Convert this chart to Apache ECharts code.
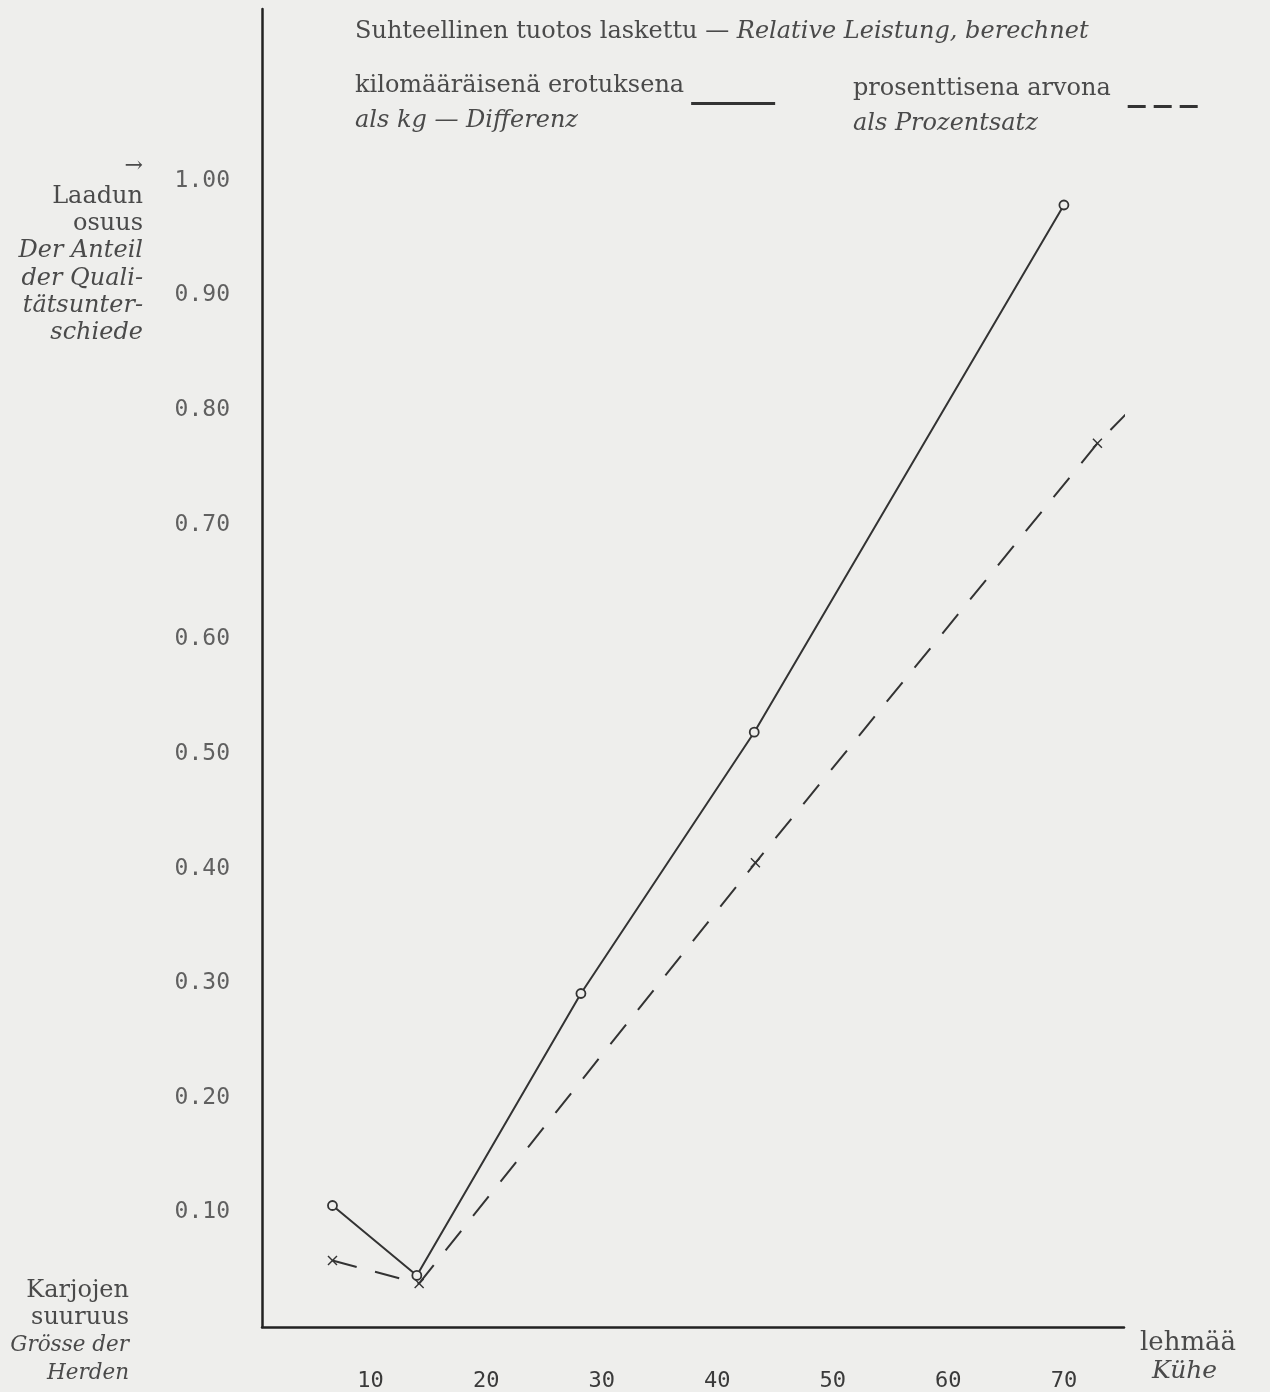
<!DOCTYPE html>
<html>
<head>
<meta charset="utf-8">
<script src="https://cdn.jsdelivr.net/npm/echarts@6/dist/echarts.min.js"></script>
<style>
  html, body { margin: 0; padding: 0; background: #eeeeec; }
  #chart { width: 1270px; height: 1392px; }
</style>
</head>
<body>
<div id="chart"></div>
<script>
// ---- data ----
const xTickLabels = [10, 20, 30, 40, 50, 60, 70];
const yTickLabels = [0.1, 0.2, 0.3, 0.4, 0.5, 0.6, 0.7, 0.8, 0.9, 1.0];

const seriesNames = ['kilomääräisenä erotuksena', 'prosenttisena arvona'];
const seriesSubNames = ['als kg — Differenz', 'als Prozentsatz'];

// herd size (cows) and relative share of quality differences
const kgDiffX = [6.7, 14.0, 28.2, 43.2, 70.0];
const kgDiffY = [0.106, 0.045, 0.291, 0.519, 0.979];

const pctX = [6.7, 14.2, 43.3, 72.9, 76.2];
const pctY = [0.058, 0.038, 0.405, 0.771, 0.805];

// ---- styles ----
const BG = '#eeeeec';
const INK = '#333333';
const TEXT = '#4a4a4a';
const SERIF = '"DejaVu Serif", "Liberation Serif", serif';
const MONO = '"DejaVu Sans Mono", "Liberation Mono", monospace';
const CROSS = 'path://M0,1L1,0L5,4L9,0L10,1L6,5L10,9L9,10L5,6L1,10L0,9L4,5Z';

const kgData = kgDiffX.map((x, i) => [x, kgDiffY[i]]);
const pctData = pctX.map((x, i) => i === pctX.length - 1
  ? { value: [x, pctY[i]], symbol: 'none' }
  : [x, pctY[i]]);

function legendRich(padRight) {
  return {
    a: { fontFamily: SERIF, fontSize: 24, color: TEXT, lineHeight: 35, align: 'left', padding: [0, padRight, 0, 0] },
    b: { fontFamily: SERIF, fontStyle: 'italic', fontSize: 24, color: TEXT, lineHeight: 35, align: 'left' }
  };
}

const chart = echarts.init(document.getElementById('chart'), null, { renderer: 'canvas' });

chart.setOption({
  backgroundColor: BG,
  animation: false,
  title: {
    left: 355,
    top: 20,
    padding: 0,
    text: '{n|Suhteellinen tuotos laskettu — }{i|Relative Leistung, berechnet}',
    textStyle: {
      fontWeight: 'normal',
      rich: {
        n: { fontFamily: SERIF, fontSize: 24, fontWeight: 'normal', color: TEXT },
        i: { fontFamily: SERIF, fontStyle: 'italic', fontWeight: 'normal', fontSize: 24, color: TEXT }
      }
    }
  },
  legend: [
    {
      data: [seriesNames[0]],
      left: 355, top: 74, padding: 0,
      align: 'right',
      itemWidth: 84, itemHeight: 12,
      selectedMode: false,
      itemStyle: { opacity: 0 },
      lineStyle: { width: 3, color: INK },
      formatter: () => '{a|' + seriesNames[0] + '}\n{b|' + seriesSubNames[0] + '}',
      textStyle: { rich: legendRich(2) }
    },
    {
      data: [seriesNames[1]],
      left: 853, top: 77, padding: 0,
      align: 'right',
      itemWidth: 78, itemHeight: 12,
      selectedMode: false,
      itemStyle: { opacity: 0 },
      lineStyle: { width: 3, color: INK, type: [18, 8] },
      formatter: () => '{a|' + seriesNames[1] + '}\n{b|' + seriesSubNames[1] + '}',
      textStyle: { rich: legendRich(12) }
    }
  ],
  grid: { left: 262, right: 146, top: 9, bottom: 65, containLabel: false },
  xAxis: {
    type: 'value',
    min: 0.6,
    max: 75.2,
    splitLine: { show: false },
    axisTick: { show: false },
    axisLine: { show: true, lineStyle: { color: '#222', width: 2.5 } },
    axisLabel: {
      customValues: xTickLabels,
      margin: 43,
      fontFamily: MONO,
      fontSize: 22,
      color: '#3a3a3a',
      formatter: v => String(Math.round(v))
    },
    name: '{a|lehmää}\n{b|Kühe}',
    nameLocation: 'end',
    nameGap: 16,
    nameTextStyle: {
      align: 'left',
      verticalAlign: 'top',
      padding: [2, 0, 0, 0],
      rich: {
        a: { fontFamily: SERIF, fontSize: 26, color: TEXT, lineHeight: 28 },
        b: { fontFamily: SERIF, fontStyle: 'italic', fontSize: 25, color: TEXT, lineHeight: 28, padding: [0, 0, 0, 12] }
      }
    }
  },
  yAxis: {
    type: 'value',
    min: 0,
    max: 1.15,
    splitLine: { show: false },
    axisTick: { show: false },
    axisLine: { show: true, lineStyle: { color: '#222', width: 2.5 } },
    axisLabel: {
      customValues: yTickLabels,
      margin: 32,
      fontFamily: MONO,
      fontSize: 23,
      color: '#606060',
      formatter: v => v.toFixed(2)
    }
  },
  graphic: [
    {
      type: 'text',
      style: { x: 143, y: 155, text: '→', align: 'right', verticalAlign: 'top',
               fontFamily: SERIF, fontSize: 22, fill: TEXT }
    },
    {
      type: 'text',
      style: {
        x: 143, y: 183, align: 'right', verticalAlign: 'top',
        text: '{r|Laadun}\n{r|osuus}\n{i|Der Anteil}\n{i|der Quali-}\n{i|tätsunter-}\n{i|schiede}',
        rich: {
          r: { fontFamily: SERIF, fontSize: 24, fill: TEXT, lineHeight: 27.3, align: 'right' },
          i: { fontFamily: SERIF, fontStyle: 'italic', fontSize: 24, fill: TEXT, lineHeight: 27.3, align: 'right' }
        }
      }
    },
    {
      type: 'text',
      style: {
        x: 129, y: 1277, align: 'right', verticalAlign: 'top',
        text: '{r|Karjojen}\n{r|suuruus}\n{i|Grösse der}\n{i|Herden}',
        rich: {
          r: { fontFamily: SERIF, fontSize: 24, fill: TEXT, lineHeight: 27.5, align: 'right' },
          i: { fontFamily: SERIF, fontStyle: 'italic', fontSize: 21.5, fill: TEXT, lineHeight: 27.5, align: 'right' }
        }
      }
    }
  ],
  series: [
    {
      name: seriesNames[0],
      type: 'line',
      data: kgData,
      clip: false,
      symbol: 'circle',
      symbolSize: 9,
      itemStyle: { color: BG, borderColor: INK, borderWidth: 1.8 },
      lineStyle: { color: INK, width: 2 },
      z: 3
    },
    {
      name: seriesNames[1],
      type: 'line',
      data: pctData,
      clip: false,
      symbol: CROSS,
      symbolSize: 10,
      itemStyle: { color: INK },
      lineStyle: { color: INK, width: 2, type: [25, 19] },
      z: 2
    }
  ]
});
</script>
</body>
</html>
